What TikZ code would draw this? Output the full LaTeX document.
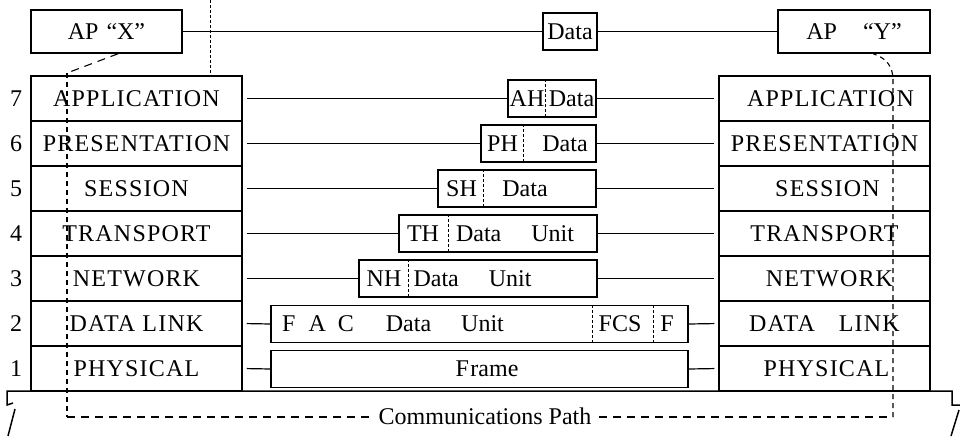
\documentclass[tikz,border=0pt]{standalone}
\usepackage{fontspec}
\setmainfont{Liberation Serif}
\newfontfamily\lsp[LetterSpace=5]{Liberation Serif}
\usetikzlibrary{calc}
\begin{document}
\begin{tikzpicture}[x=1pt,y=-1pt,
  apbox/.style={draw, line width=1.5pt, inner sep=0pt, minimum height=43pt, font=\fontsize{24}{28}\selectfont},
  lay/.style={draw, line width=1.5pt, minimum width=211pt, minimum height=45pt, inner sep=0pt, font=\lsp\fontsize{24}{28}\selectfont},
  pdu/.style={draw, line width=1.4pt, minimum height=37pt, inner sep=0pt},
  txt/.style={inner sep=0pt, font=\fontsize{24}{28}\selectfont},
  num/.style={inner sep=0pt, font=\fontsize{24}{28}\selectfont},
  conn/.style={line width=1.2pt},
  lconn/.style={line width=1.2pt, shorten <=4pt},
  rconn/.style={line width=1.2pt, shorten >=4pt},
  dsh/.style={line width=1.1pt, dash pattern=on 8pt off 6pt},
  vdsh/.style={line width=1.1pt, dash pattern=on 5pt off 4pt},
  divd/.style={line width=1pt, dash pattern=on 3pt off 2pt},
  gnd/.style={line width=1.5pt}]
\useasboundingbox (0,0) rectangle (960,436);

% application processes
\node[apbox, minimum width=151pt] (apx) at (106.5,31.5) {AP\hspace{8pt}“X”};
\node[apbox, minimum width=152pt] (apy) at (854,31.5) {AP\hspace{26pt}“Y”};
\node[pdu, minimum width=54pt, font=\fontsize{24}{28}\selectfont] (dtop) at (570,31.5) {Data};
\draw[conn] (apx.east) -- (dtop.west);
\draw[conn] (dtop.east) -- (apy.west);

% left stack
\node[lay] (L7) at (136.5,98.5) {APPLICATION};
\node[lay] (L6) at (136.5,143.5) {PRESENTATION};
\node[lay] (L5) at (136.5,188.5) {SESSION};
\node[lay] (L4) at (136.5,233.5) {TRANSPORT};
\node[lay] (L3) at (136.5,278.5) {NETWORK};
\node[lay] (L2) at (136.5,323.5) {DATA LINK};
\node[lay] (L1) at (136.5,368.5) {PHYSICAL};

% right stack
\node[lay] (R7) at (824.5,98.5) {\hspace{12pt}APPLICATION};
\node[lay] (R6) at (824.5,143.5) {PRESENTATION};
\node[lay] (R5) at (824.5,188.5) {\hspace{6pt}SESSION};
\node[lay] (R4) at (824.5,233.5) {TRANSPORT};
\node[lay] (R3) at (824.5,278.5) {\hspace{10pt}NETWORK};
\node[lay] (R2) at (824.5,323.5) {DATA\hspace{24pt}LINK};
\node[lay] (R1) at (824.5,368.5) {\hspace{4pt}PHYSICAL};

% layer numbers
\node[num] (n7) at (16,98.5) {7};
\node[num] (n6) at (16,143.5) {6};
\node[num] (n5) at (16,188.5) {5};
\node[num] (n4) at (16,233.5) {4};
\node[num] (n3) at (16,278.5) {3};
\node[num] (n2) at (16,323.5) {2};
\node[num] (n1) at (16,368.5) {1};

% protocol data units
\node[pdu, minimum width=88pt] (p7) at (552,98.5) {};
\node[pdu, minimum width=115pt] (p6) at (538.5,143.5) {};
\node[pdu, minimum width=158pt] (p5) at (517,188.5) {};
\node[pdu, minimum width=198pt] (p4) at (498,233.5) {};
\node[pdu, minimum width=238pt] (p3) at (478,278.5) {};
\node[pdu, minimum width=417pt] (p2) at (479.5,324) {};
\node[pdu, minimum width=417pt] (p1) at (479.5,369) {};

% header dividers
\draw[divd] ($(p7.north west)+(38,0)$) -- ($(p7.south west)+(38,0)$);
\draw[divd] ($(p6.north west)+(43,0)$) -- ($(p6.south west)+(43,0)$);
\draw[divd] ($(p5.north west)+(46,0)$) -- ($(p5.south west)+(46,0)$);
\draw[divd] ($(p4.north west)+(50,0)$) -- ($(p4.south west)+(50,0)$);
\draw[divd] ($(p3.north west)+(50,0)$) -- ($(p3.south west)+(50,0)$);
\draw[divd] ($(p2.north west)+(322,0)$) -- ($(p2.south west)+(322,0)$);
\draw[divd] ($(p2.north west)+(383,0)$) -- ($(p2.south west)+(383,0)$);

% texts in PDUs
\node[txt] (t7a) at (527,98.5) {AH};
\node[txt] (t7b) at (571.5,98.5) {Data};
\node[txt] (t6a) at (502.5,143.5) {PH};
\node[txt] (t6b) at (565,143.5) {Data};
\node[txt] (t5a) at (461.5,188.5) {SH};
\node[txt] (t5b) at (525,188.5) {Data};
\node[txt] (t4a) at (423,233.5) {TH};
\node[txt] (t4b) at (515,233.5) {Data\hspace{30pt}Unit};
\node[txt] (t3a) at (384,278.5) {NH};
\node[txt] (t3b) at (472.5,278.5) {Data\hspace{30pt}Unit};
\node[txt, anchor=west] (t2a) at (282,324) {F\hspace{13pt}A\hspace{12pt}C\hspace{32pt}Data\hspace{30pt}Unit};
\node[txt] (t2b) at (620,324) {FCS};
\node[txt] (t2c) at (667,324) {F};
\node[txt] (t1) at (487,369) {F\hspace{1.5pt}rame};

% peer connectors
\foreach \k in {7,6,5,4,3,2,1} {
  \draw[lconn] (L\k.east) -- (p\k.west);
  \draw[rconn] (p\k.east) -- (R\k.west);
}

% dotted boundary above left stack
\coordinate (vtop) at (210,0);
\draw[divd] (vtop) -- (vtop |- L7.north);

% communications path
\coordinate (cx) at ($(apx.south west)!0.576!(apx.south east)$);
\coordinate (cy) at ($(apy.south west)!0.625!(apy.south east)$);
\coordinate (c1) at (67,73);
\coordinate (c2) at (67,417);
\coordinate (c3) at (893,417);
\coordinate (c4) at (893,80);
\draw[dsh] (cx) -- (c1);
\draw[vdsh] (c1) -- (c2);
\draw[dsh] (c2) -- (c3);
\draw[vdsh] (c3) -- (c4) .. controls (893,66) and (886,58) .. (cy);
\node[txt, fill=white, inner xsep=6pt, inner ysep=2pt] (comm) at (485,416) {Communications Path};

% ground line with break marks
\coordinate (g1) at (7,391);
\coordinate (g2) at (952,391);
\draw[gnd] (13,403) -- (7,405) -- (g1) -- (g2) -- (952,405) -- (960,405);
\draw[gnd] (15,409) -- (8,436);
\draw[gnd] (959,410) -- (951,436);
\end{tikzpicture}
\end{document}
